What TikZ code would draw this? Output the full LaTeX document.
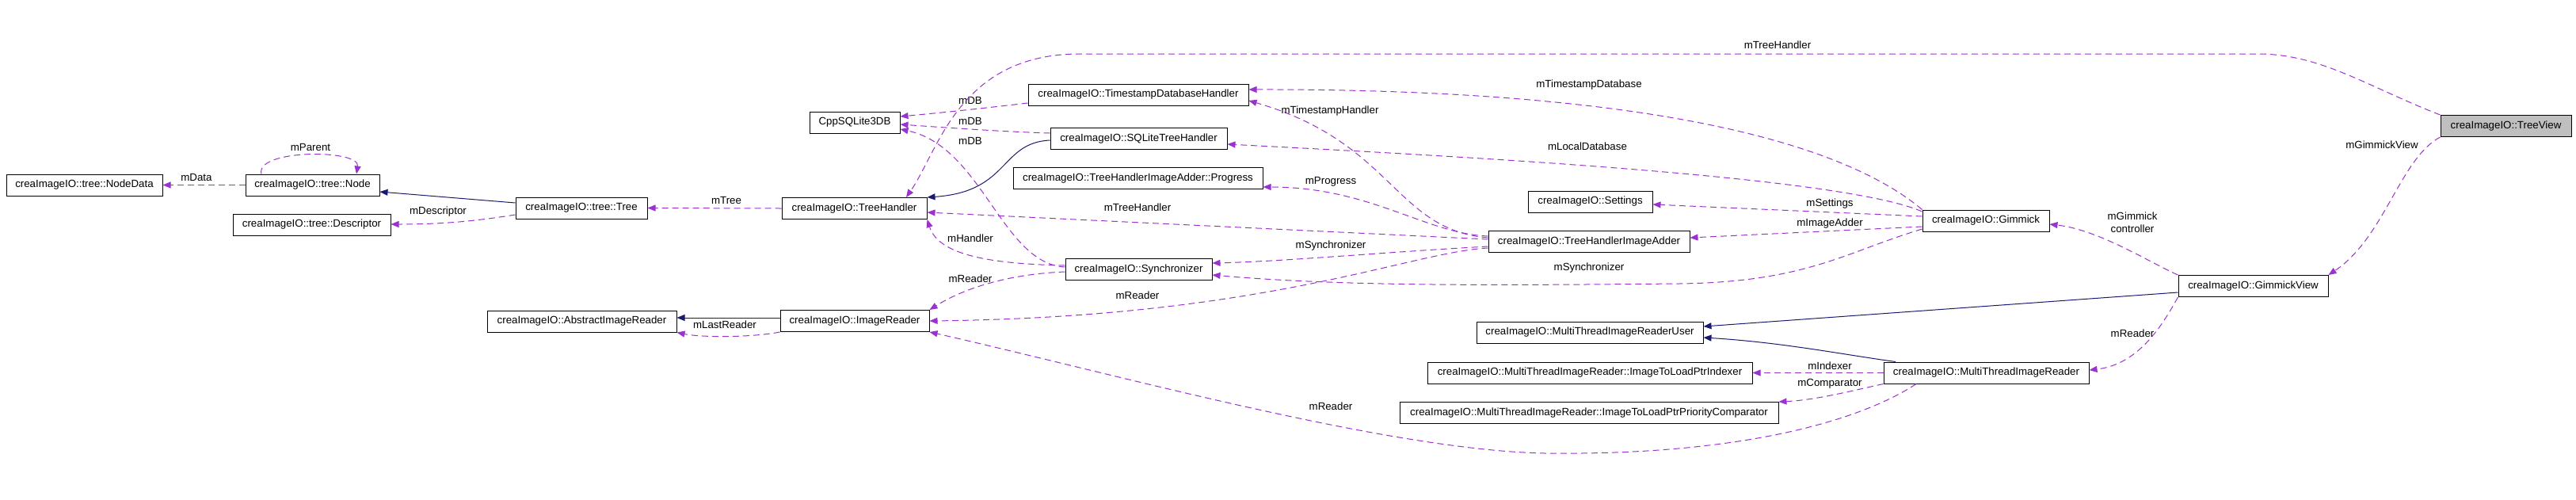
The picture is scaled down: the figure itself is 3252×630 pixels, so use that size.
\documentclass[tikz,border=0pt]{standalone}
\usepackage{fontspec}
\setmainfont{Liberation Sans}
\usetikzlibrary{arrows.meta,calc}
\definecolor{depc}{HTML}{9A32CD}
\definecolor{inhc}{HTML}{191970}
\definecolor{tvgray}{HTML}{BFBFBF}
\tikzset{
  cls/.style={draw=black, line width=1pt, fill=white, minimum height=27pt, inner sep=0pt, font=\fontsize{13.3}{16}\selectfont},
  lbl/.style={font=\fontsize{13.3}{16}\selectfont, inner sep=0pt},
  rel/.style={draw=depc, line width=1pt, dash pattern=on 8pt off 5pt, -{Triangle[length=10pt,width=8pt]}},
  inhl/.style={draw=inhc, line width=1pt, -{Triangle[length=10pt,width=8pt]}}
}
\begin{document}
\begin{tikzpicture}[x=1pt,y=-1pt]
\fill[white] (0,0) rectangle (3252,630);
\useasboundingbox (0,0) rectangle (3252,630);
% nodes
\node[cls, minimum width=197pt] (ndata) at (106.5,233.5) {creaImageIO::tree::NodeData};
\node[cls, minimum width=169pt] (node) at (394.5,233.5) {creaImageIO::tree::Node};
\node[cls, minimum width=199pt] (desc) at (393.5,283.5) {creaImageIO::tree::Descriptor};
\node[cls, minimum width=166pt] (tree) at (734,262.5) {creaImageIO::tree::Tree};
\node[cls, minimum width=114pt] (cpp) at (1079,154.5) {CppSQLite3DB};
\node[cls, minimum width=183pt] (th) at (1078.5,263) {creaImageIO::TreeHandler};
\node[cls, minimum width=278pt] (tsdb) at (1437,119.5) {creaImageIO::TimestampDatabaseHandler};
\node[cls, minimum width=223pt] (sqlth) at (1437.5,175) {creaImageIO::SQLiteTreeHandler};
\node[cls, minimum width=315pt] (prog) at (1436.5,225) {creaImageIO::TreeHandlerImageAdder::Progress};
\node[cls, minimum width=185pt] (sync) at (1437.5,340) {creaImageIO::Synchronizer};
\node[cls, minimum width=239pt] (air) at (734.5,405.5) {creaImageIO::AbstractImageReader};
\node[cls, minimum width=188pt] (ir) at (1079,405) {creaImageIO::ImageReader};
\node[cls, minimum width=157pt] (set) at (2007.5,254.5) {creaImageIO::Settings};
\node[cls, minimum width=254pt] (thia) at (2006,305) {creaImageIO::TreeHandlerImageAdder};
\node[cls, minimum width=160pt] (gim) at (2507,278.5) {creaImageIO::Gimmick};
\node[cls, minimum width=165pt, fill=tvgray] (tv) at (3163.5,159) {creaImageIO::TreeView};
\node[cls, minimum width=189pt] (gv) at (2844.5,361) {creaImageIO::GimmickView};
\node[cls, minimum width=286pt] (mtiru) at (2007,419.5) {creaImageIO::MultiThreadImageReaderUser};
\node[cls, minimum width=259pt] (mtir) at (2507.5,470.5) {creaImageIO::MultiThreadImageReader};
\node[cls, minimum width=410pt] (idx) at (2007,470.5) {creaImageIO::MultiThreadImageReader::ImageToLoadPtrIndexer};
\node[cls, minimum width=478pt] (cmp) at (2006,521) {creaImageIO::MultiThreadImageReader::ImageToLoadPtrPriorityComparator};
% edges
\draw[rel] (node.west) -- (ndata.east);
\node[lbl] at (248,224) {mData};
\draw[rel] (node.north -| 330,0) .. controls (322,188) and (455,188) .. (node.north -| 450,0);
\node[lbl] at (392,186) {mParent};
\draw[inhl] (tree.west |- 0,256) -- (node.east |- 0,242);
\draw[rel] (tree.west |- 0,271) .. controls (600,279) and (560,283) .. (desc.east |- 0,283);
\node[lbl] at (553,267) {mDescriptor};
\draw[rel] (th.west) -- (tree.east);
\node[lbl] at (917,253) {mTree};
\draw[rel] (tsdb.west |- 0,130) .. controls (1230,138) and (1180,143) .. (cpp.east |- 0,147);
\node[lbl] at (1225,127) {mDB};
\draw[rel] (sqlth.west |- 0,168) .. controls (1260,166) and (1180,160) .. (cpp.east |- 0,157);
\node[lbl] at (1225,153) {mDB};
\draw[rel] (sync.west |- 0,337) .. controls (1265,333) and (1240,185) .. (cpp.east |- 0,163);
\node[lbl] at (1225,178) {mDB};
\draw[inhl] (sqlth.west |- 0,177) .. controls (1262,180) and (1275,242) .. (th.north east);
\draw[rel] (tv.north west) .. controls (2990,110) and (2930,68) .. (2850,68) -- (1360,68) .. controls (1210,70) and (1185,190) .. (th.north -| 1144,0);
\node[lbl] at (2244,57) {mTreeHandler};
\draw[rel] (thia.west |- 0,302) -- (th.east |- 0,268);
\node[lbl] at (1436,262) {mTreeHandler};
\draw[rel] (thia.west |- 0,311) .. controls (1750,318) and (1620,330) .. (sync.east |- 0,332);
\node[lbl] at (1680,310) {mSynchronizer};
\draw[rel] (thia.west |- 0,313) .. controls (1780,318) and (1600,400) .. (ir.east |- 0,405);
\node[lbl] at (1436,373) {mReader};
\draw[rel] (thia.west |- 0,298) .. controls (1800,295) and (1730,236) .. (prog.east |- 0,236);
\node[lbl] at (1680,229) {mProgress};
\draw[rel] (thia.west |- 0,300) .. controls (1760,290) and (1760,180) .. (tsdb.east |- 0,127);
\node[lbl] at (1679,140) {mTimestampHandler};
\draw[rel] (gim.north west) .. controls (2350,200) and (2150,112) .. (tsdb.east |- 0,113);
\node[lbl] at (2006,107) {mTimestampDatabase};
\draw[rel] (gim.west |- 0,267) .. controls (2330,225) and (1900,200) .. (sqlth.east |- 0,182);
\node[lbl] at (2004,185) {mLocalDatabase};
\draw[rel] (gim.west |- 0,273) -- (set.east |- 0,258);
\node[lbl] at (2310,257) {mSettings};
\draw[rel] (gim.west |- 0,286) -- (thia.east |- 0,300);
\node[lbl] at (2310,282) {mImageAdder};
\draw[rel] (gim.west |- 0,289) .. controls (2330,318) and (2280,356) .. (2120,358) .. controls (1900,360) and (1700,362) .. (sync.east |- 0,347);
\node[lbl] at (2006,338) {mSynchronizer};
\draw[rel] (gv.north west) .. controls (2715,332) and (2650,290) .. (gim.east |- 0,283);
\node[lbl, align=center] at (2692,281) {mGimmick\\controller};
\draw[inhl] (gv.west |- 0,369) -- (mtiru.east |- 0,412);
\draw[inhl] (mtir.north -| 2393,0) .. controls (2330,448) and (2250,432) .. (mtiru.east |- 0,426);
\draw[rel] (gv.south west) .. controls (2730,410) and (2700,460) .. (mtir.east |- 0,467);
\node[lbl] at (2692,421) {mReader};
\draw[rel] (tv.south west) .. controls (3030,200) and (3010,300) .. (gv.north east);
\node[lbl] at (3007,183) {mGimmickView};
\draw[rel] (mtir.west) -- (idx.east);
\node[lbl] at (2310,462) {mIndexer};
\draw[rel] (mtir.south west) .. controls (2330,495) and (2290,505) .. (cmp.north east);
\node[lbl] at (2310,484) {mComparator};
\draw[rel] (mtir.south -| 2419,0) .. controls (2350,530) and (2200,575) .. (1950,572) .. controls (1750,568) and (1400,470) .. (ir.south east);
\node[lbl] at (1680,513) {mReader};
\draw[inhl] (ir.west |- 0,401) -- (air.east |- 0,401);
\draw[rel] (ir.south west) .. controls (950,426) and (885,426) .. (air.south east);
\node[lbl] at (915,410) {mLastReader};
\draw[rel] (sync.west |- 0,335) .. controls (1250,333) and (1185,322) .. (th.south east);
\node[lbl] at (1225,301) {mHandler};
\draw[rel] (sync.west |- 0,343) .. controls (1270,346) and (1215,365) .. (ir.north east);
\node[lbl] at (1225,352) {mReader};
\end{tikzpicture}
\end{document}
